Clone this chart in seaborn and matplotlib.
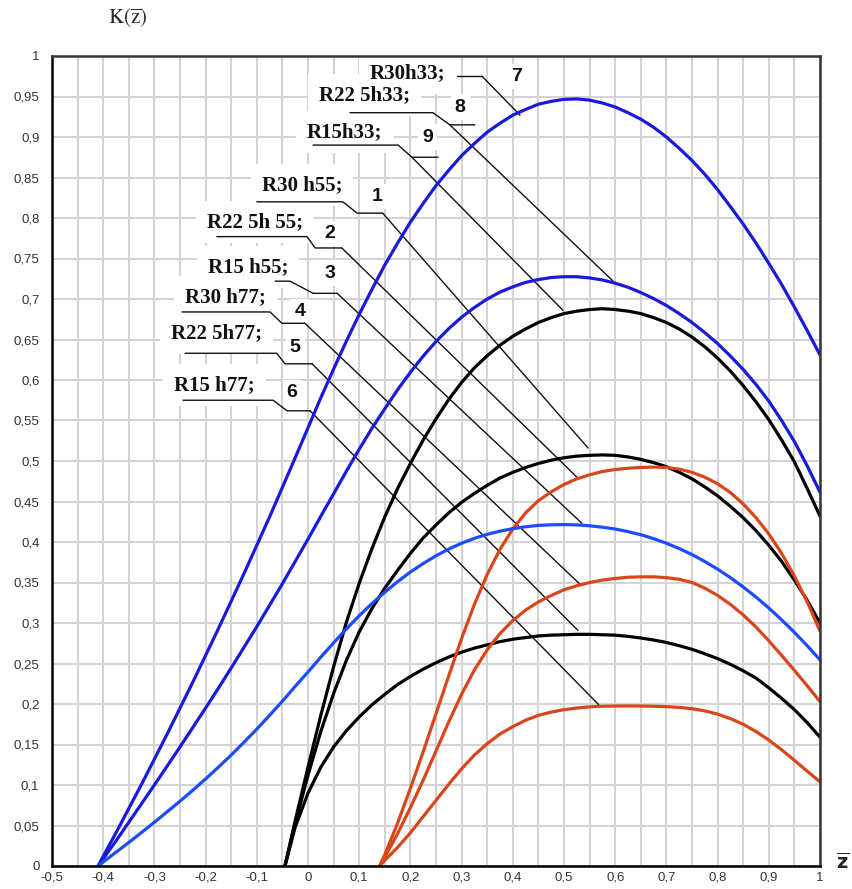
import numpy as np
import pandas as pd
import seaborn as sns
import matplotlib
matplotlib.use('Agg')
import matplotlib.pyplot as plt
from matplotlib.ticker import MultipleLocator

# sample positions along z for the three families of curves
x_blue = [-0.41] + [round(v, 3) for v in np.arange(-0.4, 1.0001, 0.025)]
x_black = [-0.045, -0.025] + [round(v, 3) for v in np.arange(0.0, 1.0001, 0.025)]
x_orange = [0.14] + [round(v, 3) for v in np.arange(0.15, 1.0001, 0.025)]

# K(z)
# blue group, h33
y7 = [0, 0.012, 0.041, 0.071, 0.101, 0.132, 0.163, 0.195, 0.227, 0.26, 0.293, 0.327, 0.361, 0.396, 0.431,
      0.4675, 0.504, 0.541, 0.578, 0.6135, 0.648, 0.681, 0.712, 0.742, 0.769, 0.795, 0.818, 0.84, 0.859,
      0.877, 0.892, 0.906, 0.917, 0.927, 0.934, 0.9405, 0.944, 0.9465, 0.947, 0.9455, 0.942, 0.937, 0.93,
      0.922, 0.912, 0.9, 0.886, 0.871, 0.854, 0.835, 0.814, 0.7925, 0.769, 0.744, 0.718, 0.69, 0.661, 0.631]
y8 = [0, 0.009, 0.031, 0.054, 0.077, 0.1, 0.1235, 0.147, 0.171, 0.195, 0.2195, 0.2445, 0.27, 0.2955, 0.322,
      0.3485, 0.376, 0.4035, 0.4318, 0.4595, 0.4875, 0.5145, 0.5405, 0.5645, 0.588, 0.6095, 0.6295, 0.6475,
      0.6635, 0.6775, 0.6895, 0.7, 0.7085, 0.715, 0.7205, 0.724, 0.7265, 0.7275, 0.7275, 0.726, 0.7235,
      0.7195, 0.7145, 0.708, 0.7005, 0.692, 0.682, 0.671, 0.6585, 0.645, 0.6295, 0.613, 0.5945, 0.574, 0.55,
      0.524, 0.494, 0.4615]
y9 = [0, 0.005, 0.017, 0.029, 0.0415, 0.054, 0.067, 0.08, 0.0935, 0.1075, 0.122, 0.137, 0.1528, 0.169, 0.186,
      0.2035, 0.2218, 0.2395, 0.2578, 0.2755, 0.2927, 0.309, 0.3241, 0.338, 0.351, 0.363, 0.3734, 0.383, 0.3913,
      0.3985, 0.4045, 0.4095, 0.4134, 0.4165, 0.4188, 0.4205, 0.4212, 0.4215, 0.4211, 0.42, 0.4183, 0.416,
      0.4128, 0.409, 0.4041, 0.3985, 0.3919, 0.3845, 0.3759, 0.3665, 0.356, 0.3445, 0.332, 0.3185, 0.3039,
      0.2885, 0.272, 0.2545]
# black group, h55
y1 = [0, 0.056, 0.122, 0.186, 0.246, 0.301, 0.349, 0.392, 0.431, 0.466, 0.497, 0.526, 0.552, 0.576, 0.597,
      0.615, 0.63, 0.643, 0.654, 0.663, 0.671, 0.677, 0.682, 0.685, 0.687, 0.688, 0.687, 0.685, 0.682, 0.677,
      0.671, 0.663, 0.653, 0.641, 0.627, 0.611, 0.593, 0.573, 0.551, 0.526, 0.499, 0.466, 0.432]
y2 = [0, 0.053, 0.112, 0.166, 0.213, 0.254, 0.289, 0.318, 0.343, 0.365, 0.386, 0.405, 0.421, 0.436, 0.449, 0.46,
      0.47, 0.479, 0.486, 0.492, 0.497, 0.501, 0.504, 0.506, 0.507, 0.5075, 0.507, 0.505, 0.502, 0.498, 0.493,
      0.486, 0.478, 0.468, 0.457, 0.444, 0.43, 0.414, 0.396, 0.376, 0.353, 0.328, 0.3]
y3 = [0, 0.048, 0.09, 0.122, 0.147, 0.167, 0.184, 0.199, 0.212, 0.224, 0.234, 0.243, 0.251, 0.258, 0.264, 0.269,
      0.273, 0.277, 0.28, 0.282, 0.284, 0.285, 0.2855, 0.286, 0.286, 0.2855, 0.285, 0.2835, 0.2815, 0.279, 0.276,
      0.272, 0.2675, 0.262, 0.256, 0.249, 0.241, 0.232, 0.22, 0.207, 0.193, 0.177, 0.159]
# orange group, h77
y4 = [0, 0.014, 0.053, 0.096, 0.141, 0.188, 0.235, 0.281, 0.323, 0.36, 0.391, 0.416, 0.436, 0.451, 0.462, 0.471,
      0.478, 0.483, 0.487, 0.4895, 0.491, 0.492, 0.4925, 0.492, 0.49, 0.486, 0.48, 0.472, 0.461, 0.447, 0.43,
      0.41, 0.386, 0.358, 0.326, 0.29]
y5 = [0, 0.011, 0.04, 0.072, 0.106, 0.142, 0.178, 0.212, 0.242, 0.267, 0.287, 0.303, 0.316, 0.326, 0.334, 0.341,
      0.346, 0.35, 0.353, 0.355, 0.3565, 0.357, 0.357, 0.356, 0.354, 0.35, 0.343, 0.334, 0.323, 0.31, 0.295,
      0.278, 0.26, 0.2415, 0.2225, 0.203]
y6 = [0, 0.007, 0.023, 0.041, 0.061, 0.081, 0.101, 0.12, 0.137, 0.151, 0.163, 0.172, 0.18, 0.186, 0.19, 0.193,
      0.195, 0.1965, 0.1972, 0.1975, 0.1976, 0.1975, 0.1972, 0.1967, 0.1958, 0.1942, 0.1915, 0.1875, 0.182, 0.175,
      0.166, 0.1555, 0.1435, 0.1305, 0.117, 0.104]

names = ['R30 h55;', 'R22 5h 55;', 'R15 h55;', 'R30 h77;', 'R22 5h77;', 'R15 h77;', 'R30h33;', 'R22 5h33;', 'R15h33;']
numbers = ['1', '2', '3', '4', '5', '6', '7', '8', '9']
xs = [x_black, x_black, x_black, x_orange, x_orange, x_orange, x_blue, x_blue, x_blue]
ys = [y1, y2, y3, y4, y5, y6, y7, y8, y9]
colors = ['#000000', '#000000', '#000000', '#d9461b', '#d9461b', '#d9461b', '#1a1adb', '#1a1adb', '#1f4bff']

xticks = np.round(np.arange(-0.5, 1.001, 0.1), 2) + 0.0
yticks = np.round(np.arange(0, 1.001, 0.05), 2) + 0.0

# label placement (data coords): text, number, underline path, leader from -> to
label_pos = {
    '1': dict(t=(-0.012, 0.841), n=(0.135, 0.827), path=[(-0.1, 0.820), (0.068, 0.820), (0.096, 0.806), (0.146, 0.806)], lead=[(0.146, 0.806), (0.547, 0.516)]),
    '2': dict(t=(-0.104, 0.795), n=(0.043, 0.781), path=[(-0.178, 0.777), (-0.002, 0.777), (0.014, 0.763), (0.066, 0.763)], lead=[(0.066, 0.763), (0.527, 0.479)]),
    '3': dict(t=(-0.117, 0.740), n=(0.043, 0.732), path=[(-0.064, 0.722), (-0.035, 0.722), (0.010, 0.707), (0.057, 0.707)], lead=[(0.057, 0.707), (0.535, 0.423)]),
    '4': dict(t=(-0.162, 0.702), n=(-0.016, 0.685), path=[(-0.246, 0.684), (-0.074, 0.684), (-0.051, 0.670), (-0.006, 0.670)], lead=[(-0.006, 0.670), (0.531, 0.348)]),
    '5': dict(t=(-0.178, 0.658), n=(-0.025, 0.640), path=[(-0.240, 0.633), (-0.061, 0.633), (-0.045, 0.620), (0.008, 0.620)], lead=[(0.008, 0.620), (0.527, 0.291)]),
    '6': dict(t=(-0.182, 0.594), n=(-0.031, 0.585), path=[(-0.244, 0.575), (-0.068, 0.575), (-0.041, 0.562), (0.004, 0.562)], lead=[(0.004, 0.562), (0.568, 0.199)]),
    '7': dict(t=(0.195, 0.979), n=(0.408, 0.975), path=[(0.291, 0.975), (0.340, 0.975)], lead=[(0.340, 0.975), (0.414, 0.927)]),
    '8': dict(t=(0.111, 0.952), n=(0.297, 0.937), path=[(0.082, 0.930), (0.244, 0.930), (0.277, 0.915), (0.326, 0.915)], lead=[(0.277, 0.915), (0.596, 0.722)]),
    '9': dict(t=(0.072, 0.906), n=(0.234, 0.900), path=[(0.010, 0.890), (0.176, 0.890), (0.203, 0.875), (0.254, 0.875)], lead=[(0.203, 0.875), (0.498, 0.686)]),
}

sns.set_theme(style='white')
plt.rcParams['font.family'] = ['Liberation Sans', 'DejaVu Sans']

fig = plt.figure(figsize=(8.53, 8.89), dpi=100)
ax = fig.add_axes([52 / 853, 23 / 889, 768 / 853, 810 / 889])

# grid 0.5 < white boxes 1 < label text 1.2 < leader lines 1.5 < curves 2 < spines 2.5
for x, y, c in zip(xs, ys, colors):
    sns.lineplot(x=x, y=y, color=c, lw=2.3, ax=ax, sort=False, zorder=2)

for num, name in zip(numbers, names):
    p = label_pos[num]
    px, py = zip(*p['path'])
    ax.plot(px, py, color='#111111', lw=1.0, zorder=1.5)
    lx, ly = zip(*p['lead'])
    ax.plot(lx, ly, color='#111111', lw=1.0, zorder=1.5)
    # white patches first, so no box hides a neighbouring label
    for txt, xy, fam, fs, pad in [(name, p['t'], 'Liberation Serif', 15, 8), (num, p['n'], 'Liberation Sans', 14, 3)]:
        ax.text(xy[0], xy[1], txt, ha='center', va='center', fontsize=fs, fontweight='bold',
                family=fam, color='none', zorder=1,
                bbox=dict(facecolor='white', edgecolor='none', pad=pad))
        ax.text(xy[0], xy[1], txt, ha='center', va='center', fontsize=fs, fontweight='bold',
                family=fam, color='#111111', zorder=1.2)

ax.set_xlim(-0.5, 1)
ax.set_ylim(0, 1)
ax.set_xticks(xticks)
ax.set_xticklabels([f'{v:g}'.replace('.', ',') for v in xticks])
ax.set_yticks(yticks)
ax.set_yticklabels([f'{v:g}'.replace('.', ',') for v in yticks])
ax.xaxis.set_minor_locator(MultipleLocator(0.05))
ax.grid(which='both', color='#d4d4d4', lw=1.5)
ax.set_axisbelow(True)
ax.tick_params(which='both', length=0, labelsize=9.5, labelcolor='#333333')
ax.tick_params(axis='x', pad=4)
ax.tick_params(axis='y', pad=9)
for side, sp in ax.spines.items():
    sp.set_visible(True)
    sp.set_linewidth(1.8)
    sp.set_zorder(2.5)
    sp.set_color('#000000' if side in ('left', 'bottom') else '#333333')
ax.set_xlabel('')
ax.set_ylabel('')

fig.text(128 / 853, 1 - 18 / 889, r'$\mathrm{K}(\overline{\mathrm{z}})$', ha='center', va='center',
         fontsize=15, math_fontfamily='stix')
fig.text(843 / 853, 1 - 862 / 889, r'$\overline{\mathbf{z}}$', ha='center', va='center',
         fontsize=14, math_fontfamily='dejavusans')

fig.savefig('out.png', dpi=100)
